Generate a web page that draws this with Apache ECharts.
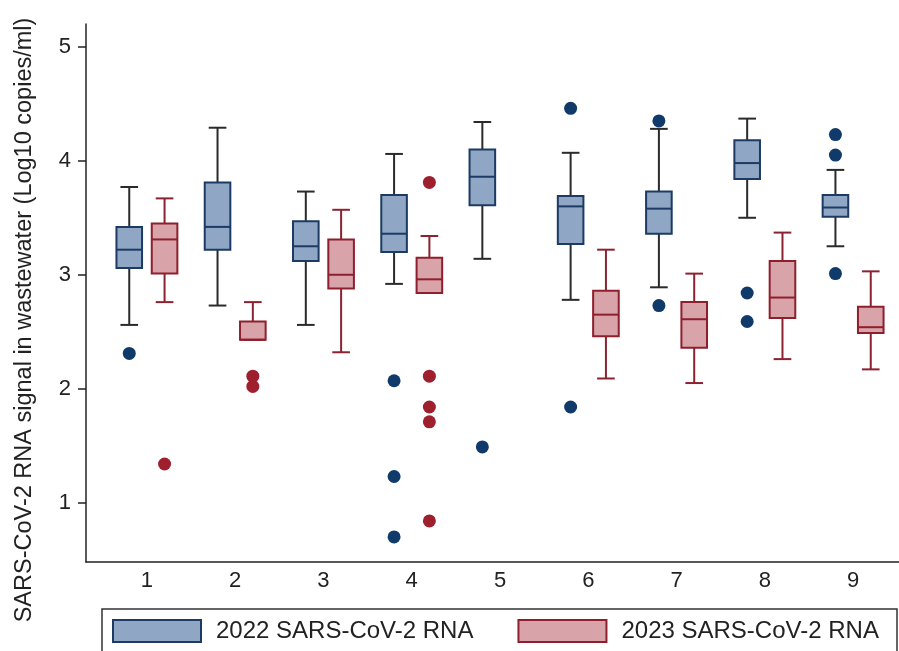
<!DOCTYPE html>
<html>
<head>
<meta charset="utf-8">
<script src="https://cdn.jsdelivr.net/npm/echarts@6/dist/echarts.min.js"></script>
<style>
  html, body { margin: 0; padding: 0; background: #fff; }
  #chart { width: 899px; height: 651px; }
</style>
</head>
<body>
<div id="chart"></div>
<script>
// sites on the x axis
const sites = [1, 2, 3, 4, 5, 6, 7, 8, 9];
const yTicks = [1, 2, 3, 4, 5];

// 2022: [low whisker, q1, median, q3, high whisker] per site
const box2022 = [
  [2.56, 3.06, 3.22, 3.42, 3.77],
  [2.73, 3.22, 3.42, 3.81, 4.29],
  [2.56, 3.12, 3.25, 3.47, 3.73],
  [2.92, 3.20, 3.36, 3.70, 4.06],
  [3.14, 3.61, 3.86, 4.10, 4.34],
  [2.78, 3.27, 3.60, 3.69, 4.07],
  [2.89, 3.36, 3.58, 3.73, 4.28],
  [3.50, 3.84, 3.98, 4.18, 4.37],
  [3.25, 3.51, 3.59, 3.70, 3.92]
];
const outliers2022 = [
  [2.31], [], [], [2.07, 1.23, 0.70], [1.49],
  [4.46, 1.84], [4.35, 2.73], [2.84, 2.59], [4.23, 4.05, 3.01]
];

// 2023 (site 5 has no data)
const box2023 = [
  [2.76, 3.01, 3.31, 3.45, 3.67],
  [2.43, 2.43, 2.43, 2.59, 2.76],
  [2.32, 2.88, 3.00, 3.31, 3.57],
  [2.84, 2.84, 2.96, 3.15, 3.34],
  null,
  [2.09, 2.46, 2.65, 2.86, 3.22],
  [2.05, 2.36, 2.61, 2.76, 3.01],
  [2.26, 2.62, 2.80, 3.12, 3.37],
  [2.17, 2.49, 2.54, 2.72, 3.03]
];
const outliers2023 = [
  [1.34], [2.11, 2.02], [], [3.81, 2.11, 1.84, 1.71, 0.84], [],
  [], [], [], []
];

const NAME_22 = '2022 SARS-CoV-2 RNA';
const NAME_23 = '2023 SARS-CoV-2 RNA';
const FONT = 'Liberation Sans, Arial, sans-serif';

const BOX_W = 0.29;   // in x units
const CAP_W = 0.2;

function boxData(boxes) {
  const out = [];
  boxes.forEach((b, i) => {
    if (b) out.push([sites[i]].concat(b));
  });
  return out;
}

function outlierData(list, offset) {
  const out = [];
  list.forEach((vals, i) => {
    vals.forEach(v => out.push([sites[i] + offset, v]));
  });
  return out;
}

function makeRender(offset, fill, border, whisker) {
  return function (params, api) {
    const x = api.value(0) + offset;
    const pLow = api.coord([x, api.value(1)]);
    const pQ1 = api.coord([x, api.value(2)]);
    const pMed = api.coord([x, api.value(3)]);
    const pQ3 = api.coord([x, api.value(4)]);
    const pHigh = api.coord([x, api.value(5)]);
    const bw = api.size([BOX_W, 0])[0];
    const cw = api.size([CAP_W, 0])[0];
    const cx = pMed[0];
    const lineStyle = { stroke: whisker, lineWidth: 2 };
    const children = [
      { type: 'line', shape: { x1: cx, y1: pQ3[1], x2: cx, y2: pHigh[1] }, style: lineStyle },
      { type: 'line', shape: { x1: cx - cw / 2, y1: pHigh[1], x2: cx + cw / 2, y2: pHigh[1] }, style: lineStyle },
      { type: 'line', shape: { x1: cx, y1: pQ1[1], x2: cx, y2: pLow[1] }, style: lineStyle },
      { type: 'line', shape: { x1: cx - cw / 2, y1: pLow[1], x2: cx + cw / 2, y2: pLow[1] }, style: lineStyle },
      {
        type: 'rect',
        shape: { x: cx - bw / 2, y: pQ3[1], width: bw, height: pQ1[1] - pQ3[1] },
        style: { fill: fill, stroke: border, lineWidth: 2 }
      },
      { type: 'line', shape: { x1: cx - bw / 2, y1: pMed[1], x2: cx + bw / 2, y2: pMed[1] }, style: { stroke: border, lineWidth: 2 } }
    ];
    return { type: 'group', children: children };
  };
}

const chart = echarts.init(document.getElementById('chart'));

const option = {
  backgroundColor: '#fff',
  animation: false,
  textStyle: { fontFamily: FONT },
  grid: { left: 86, right: 0, top: 24, bottom: 89 },
  xAxis: {
    type: 'value',
    min: 0.31,
    max: 9.52,
    splitLine: { show: false },
    axisLine: { show: true, lineStyle: { color: '#222', width: 1.5 } },
    axisTick: { show: false },
    axisLabel: {
      customValues: sites,
      fontSize: 22,
      color: '#222',
      margin: 8,
      fontFamily: FONT
    }
  },
  yAxis: {
    type: 'value',
    min: 0.48,
    max: 5.2,
    splitLine: { show: false },
    axisLine: { show: true, lineStyle: { color: '#222', width: 1.5 } },
    axisTick: { show: true, customValues: yTicks, length: 8, lineStyle: { color: '#222', width: 1.5 } },
    axisLabel: {
      customValues: yTicks,
      fontSize: 22,
      color: '#222',
      margin: 15,
      fontFamily: FONT
    }
  },
  legend: {
    left: 112,
    top: 619,
    padding: 0,
    itemWidth: 88,
    itemHeight: 22,
    itemGap: 44,
    icon: 'rect',
    selectedMode: false,
    data: [
      { name: NAME_22, itemStyle: { color: '#8fa7c4', borderColor: '#1c3a63', borderWidth: 2 } },
      { name: NAME_23, itemStyle: { color: '#d9a3aa', borderColor: '#8e1f2c', borderWidth: 2 } }
    ],
    textStyle: { fontSize: 24, color: '#222', fontFamily: FONT, padding: [0, 0, 0, 10] }
  },
  graphic: [
    {
      type: 'rect',
      shape: { x: 102, y: 609, width: 795, height: 60 },
      style: { fill: 'none', stroke: '#333', lineWidth: 1.5 },
      silent: true
    },
    {
      type: 'text',
      x: 25,
      y: 320,
      rotation: Math.PI / 2,
      style: {
        text: 'SARS-CoV-2 RNA signal in wastewater (Log10 copies/ml)',
        fontSize: 23.5,
        fontFamily: FONT,
        fill: '#222',
        textAlign: 'center',
        textVerticalAlign: 'middle'
      }
    }
  ],
  series: [
    {
      name: NAME_22,
      type: 'custom',
      itemStyle: { color: '#8fa7c4', borderColor: '#1c3a63' },
      encode: { x: 0, y: [1, 2, 3, 4, 5] },
      renderItem: makeRender(-0.2, '#8fa7c4', '#1c3a63', '#2a2a2a'),
      data: boxData(box2022)
    },
    {
      name: NAME_23,
      type: 'custom',
      itemStyle: { color: '#d9a3aa', borderColor: '#8e1f2c' },
      encode: { x: 0, y: [1, 2, 3, 4, 5] },
      renderItem: makeRender(0.2, '#d9a3aa', '#8e1f2c', '#8b2232'),
      data: boxData(box2023)
    },
    {
      name: '2022 outliers',
      type: 'scatter',
      symbolSize: 13,
      itemStyle: { color: '#0f3a6a', opacity: 1 },
      data: outlierData(outliers2022, -0.2)
    },
    {
      name: '2023 outliers',
      type: 'scatter',
      symbolSize: 13,
      itemStyle: { color: '#9e1f2e', opacity: 1 },
      data: outlierData(outliers2023, 0.2)
    }
  ]
};

chart.setOption(option);
</script>
</body>
</html>
